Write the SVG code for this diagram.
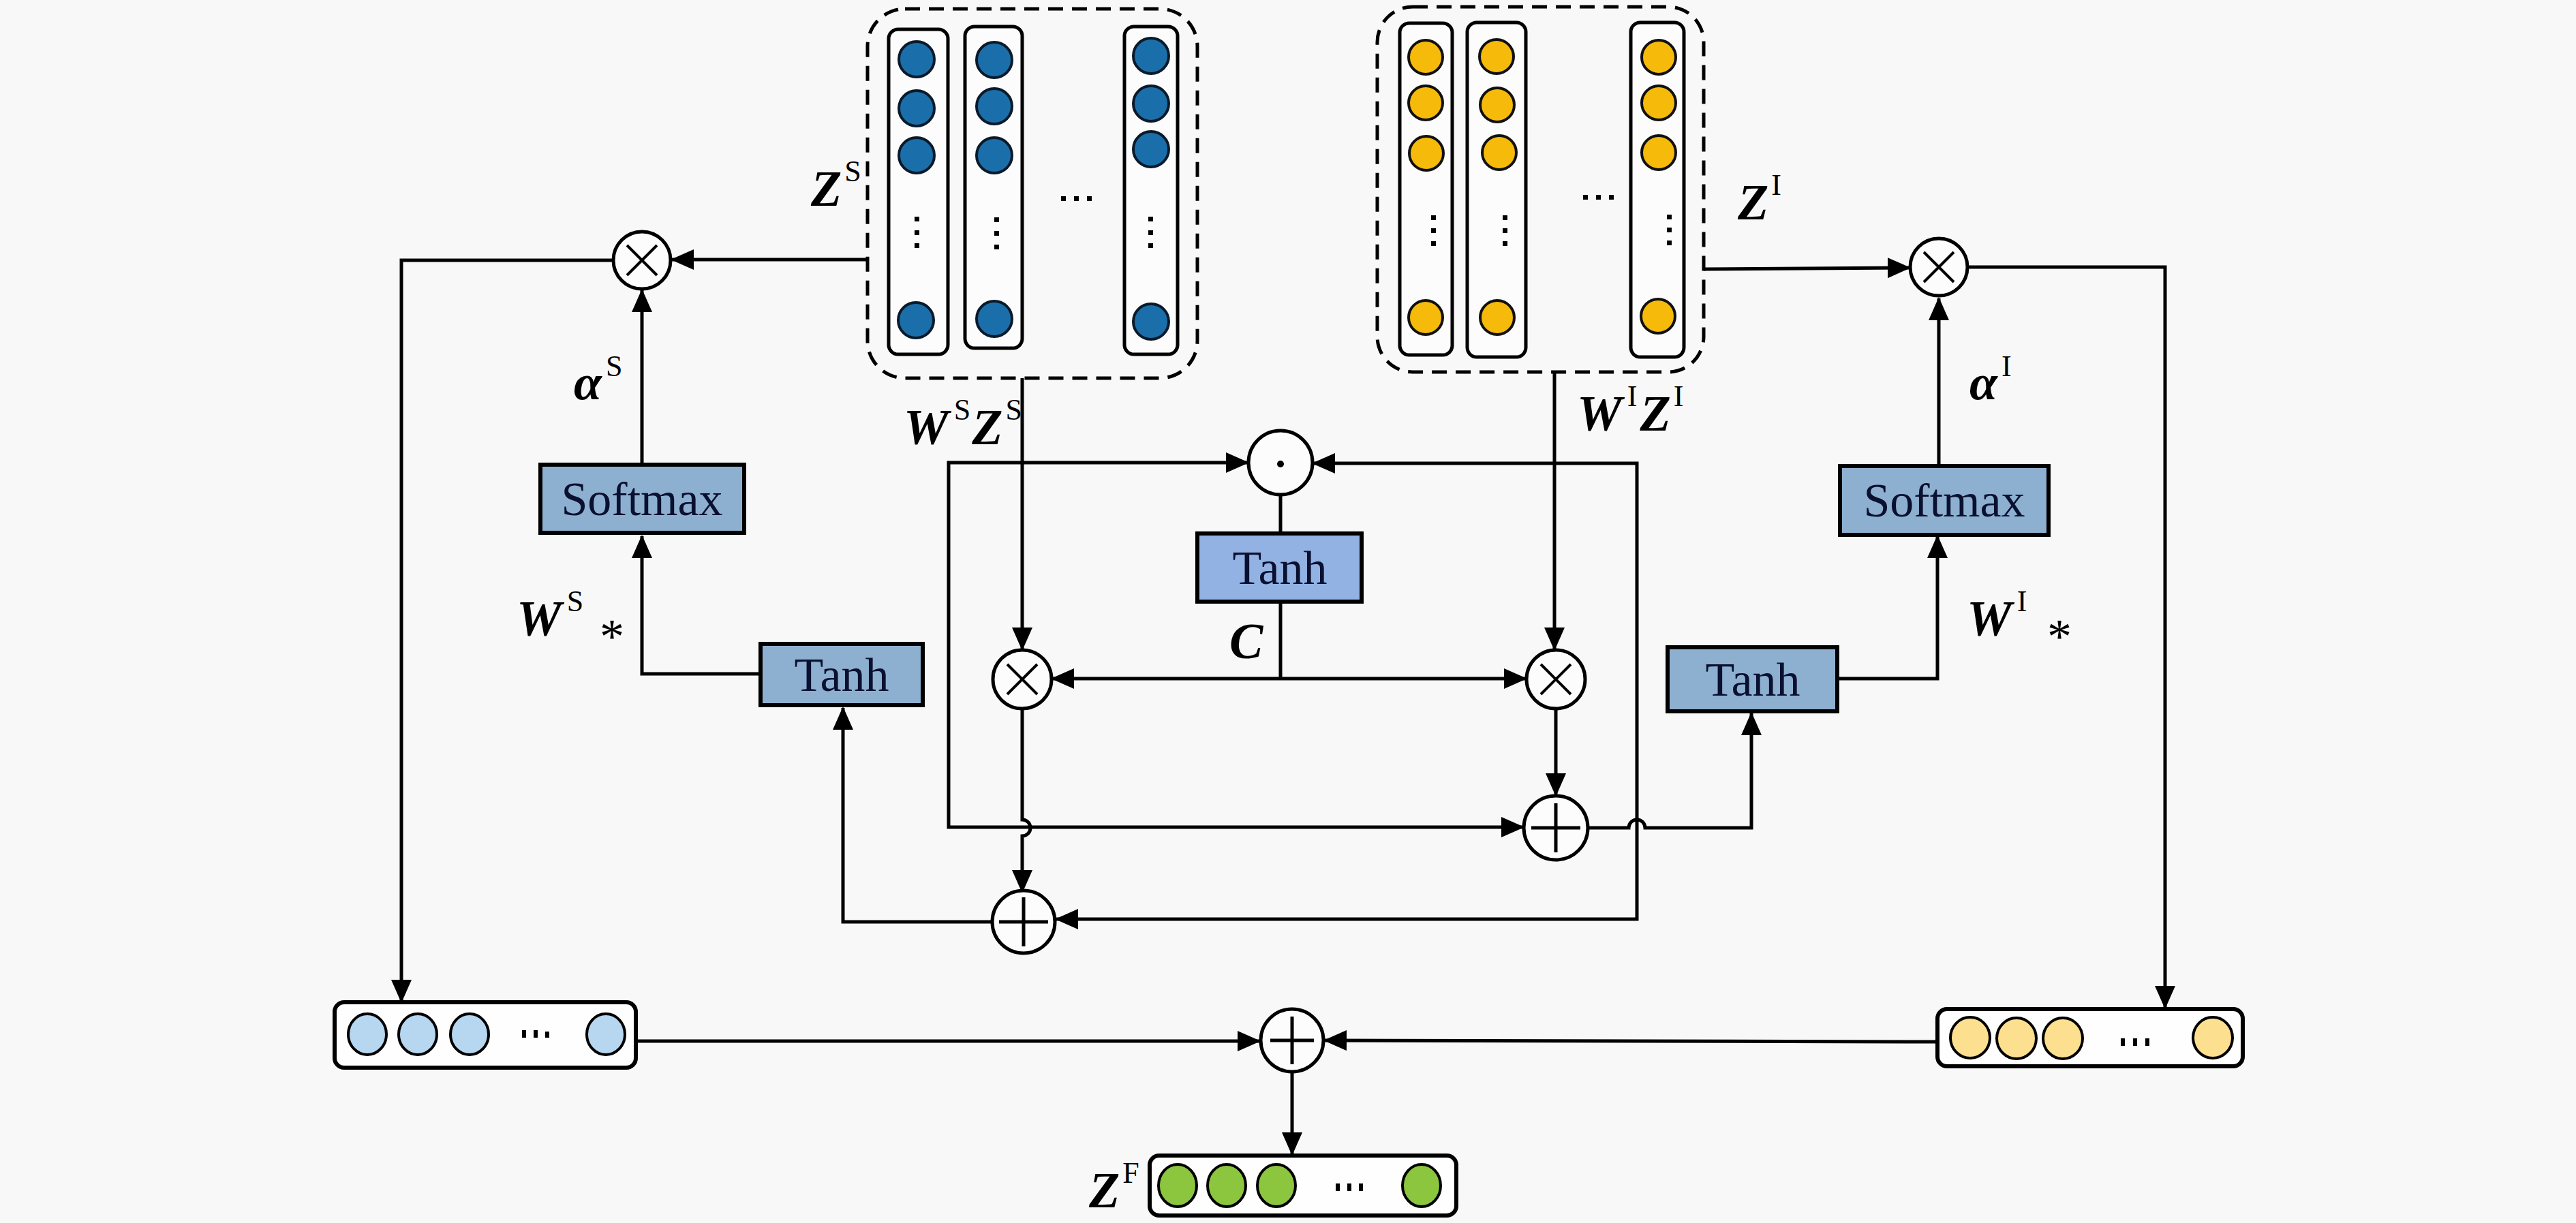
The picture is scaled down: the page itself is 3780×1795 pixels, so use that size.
<svg xmlns="http://www.w3.org/2000/svg" width="3780" height="1795" viewBox="0 0 3780 1795">
<style>
.ln{fill:none;stroke:#000;stroke-width:5}
.op{fill:#fcfcfc;stroke:#000;stroke-width:5}
.dash{fill:none;stroke:#000;stroke-width:5;stroke-dasharray:22 13}
.col{fill:#fcfcfc;stroke:#000;stroke-width:5}
.row{fill:#fefefe;stroke:#000;stroke-width:6}
.box{fill:#8eb0d0;stroke:#000;stroke-width:6}
.boxm{fill:#93b2e4;stroke:#000;stroke-width:6}
.cb{fill:#1a6faa;stroke:#0a1a2a;stroke-width:4}
.cy{fill:#f6bb0a;stroke:#111;stroke-width:4}
.clb{fill:#b7d6f0;stroke:#000;stroke-width:4}
.cly{fill:#fde08f;stroke:#000;stroke-width:4}
.cg{fill:#8cc63f;stroke:#000;stroke-width:4}
.dot{fill:#000}
.bt{font-family:"Liberation Serif","DejaVu Serif",serif;font-size:70px;text-anchor:middle;fill:#0a1030}
.m{font-family:"Liberation Serif","DejaVu Serif",serif;font-size:74px;font-weight:bold;font-style:italic;fill:#000}
.sup{font-weight:normal;font-style:normal;font-size:44px}
.ast{font-family:"Liberation Serif","DejaVu Serif",serif;font-size:72px;fill:#000}
</style>
<defs>
<marker id="ah" markerUnits="userSpaceOnUse" markerWidth="34" markerHeight="30" refX="32" refY="15" orient="auto-start-reverse" viewBox="0 0 34 30">
<path d="M0,0 L34,15 L0,30 Z" fill="#000"/>
</marker>
</defs>
<rect x="0" y="0" width="3780" height="1795" fill="#f8f8f8"/>

<g id="ZS">
<rect class="dash" x="1273" y="13" width="484" height="542" rx="55"/>
<rect class="col" x="1304" y="43" width="87" height="477" rx="14"/>
<rect class="col" x="1416" y="39" width="84" height="472" rx="14"/>
<rect class="col" x="1650" y="39" width="78" height="481" rx="14"/>
<circle class="cb" cx="1345" cy="87" r="26"/><circle class="cb" cx="1345" cy="159" r="26"/><circle class="cb" cx="1345" cy="228" r="26"/><circle class="cb" cx="1344" cy="470" r="26"/>
<circle class="cb" cx="1459" cy="88" r="26"/><circle class="cb" cx="1459" cy="156" r="26"/><circle class="cb" cx="1459" cy="228" r="26"/><circle class="cb" cx="1459" cy="468" r="26"/>
<circle class="cb" cx="1689" cy="82" r="26"/><circle class="cb" cx="1689" cy="152" r="26"/><circle class="cb" cx="1689" cy="219" r="26"/><circle class="cb" cx="1689" cy="472" r="26"/>
<g class="dot">
<rect x="1342" y="318" width="7" height="7"/><rect x="1342" y="338" width="7" height="7"/><rect x="1342" y="357" width="7" height="7"/>
<rect x="1459" y="319" width="7" height="7"/><rect x="1459" y="339" width="7" height="7"/><rect x="1459" y="359" width="7" height="7"/>
<rect x="1685" y="318" width="7" height="7"/><rect x="1685" y="338" width="7" height="7"/><rect x="1685" y="357" width="7" height="7"/>
<rect x="1557" y="288" width="7" height="7"/><rect x="1576" y="288" width="7" height="7"/><rect x="1595" y="288" width="7" height="7"/>
</g>
</g>

<g id="ZI">
<rect class="dash" x="2021" y="10" width="479" height="536" rx="52"/>
<rect class="col" x="2054" y="34" width="77" height="487" rx="14"/>
<rect class="col" x="2153" y="33" width="86" height="491" rx="14"/>
<rect class="col" x="2393" y="33" width="78" height="491" rx="14"/>
<circle class="cy" cx="2092" cy="84" r="25"/><circle class="cy" cx="2092" cy="151" r="25"/><circle class="cy" cx="2093" cy="225" r="25"/><circle class="cy" cx="2092" cy="466" r="25"/>
<circle class="cy" cx="2196" cy="83" r="25"/><circle class="cy" cx="2197" cy="154" r="25"/><circle class="cy" cx="2200" cy="224" r="25"/><circle class="cy" cx="2197" cy="466" r="25"/>
<circle class="cy" cx="2434" cy="84" r="25"/><circle class="cy" cx="2434" cy="151" r="25"/><circle class="cy" cx="2434" cy="224" r="25"/><circle class="cy" cx="2433" cy="464" r="25"/>
<g class="dot">
<rect x="2100" y="316" width="7" height="7"/><rect x="2100" y="335" width="7" height="7"/><rect x="2100" y="354" width="7" height="7"/>
<rect x="2205" y="316" width="7" height="7"/><rect x="2205" y="335" width="7" height="7"/><rect x="2205" y="354" width="7" height="7"/>
<rect x="2446" y="315" width="7" height="7"/><rect x="2446" y="334" width="7" height="7"/><rect x="2446" y="353" width="7" height="7"/>
<rect x="2323" y="286" width="7" height="7"/><rect x="2342" y="286" width="7" height="7"/><rect x="2361" y="286" width="7" height="7"/>
</g>
</g>

<g id="connectors">
<path class="ln" d="M1272,381 H986" marker-end="url(#ah)"/>
<path class="ln" d="M900,382 H589 V1470" marker-end="url(#ah)"/>
<path class="ln" d="M942,682 V426" marker-end="url(#ah)"/>
<path class="ln" d="M1116,989 H942 V787" marker-end="url(#ah)"/>
<path class="ln" d="M1456,1353 H1237 V1039" marker-end="url(#ah)"/>
<path class="ln" d="M1500,555 V953" marker-end="url(#ah)"/>
<path class="ln" d="M1500,1040 V1203 A12,12 0 0 1 1500,1227 V1309" marker-end="url(#ah)"/>
<path class="ln" d="M1831,679 H1392 V1214 H2235" marker-start="url(#ah)" marker-end="url(#ah)"/>
<path class="ln" d="M1927,680 H2402 V1349 H1550" marker-start="url(#ah)" marker-end="url(#ah)"/>
<path class="ln" d="M1879,726 V783"/>
<path class="ln" d="M1879,883 V996"/>
<path class="ln" d="M1544,996 H2239" marker-start="url(#ah)" marker-end="url(#ah)"/>
<path class="ln" d="M2281,546 V953" marker-end="url(#ah)"/>
<path class="ln" d="M2283,1041 V1167" marker-end="url(#ah)"/>
<path class="ln" d="M2330,1215 H2390 A12,12 0 0 1 2414,1215 H2570 V1047" marker-end="url(#ah)"/>
<path class="ln" d="M2698,996 H2843 V787" marker-end="url(#ah)"/>
<path class="ln" d="M2845,684 V438" marker-end="url(#ah)"/>
<path class="ln" d="M2500,395 L2802,393" marker-end="url(#ah)"/>
<path class="ln" d="M2887,392 H3177 V1479" marker-end="url(#ah)"/>
<path class="ln" d="M2842,1529 L1944,1527" marker-end="url(#ah)"/>
<path class="ln" d="M933,1528 H1848" marker-end="url(#ah)"/>
<path class="ln" d="M1896,1573 V1694" marker-end="url(#ah)"/>
</g>

<g id="mulS"><circle class="op" cx="942" cy="382" r="42"/><path class="ln" d="M920,360 L964,404 M964,360 L920,404" style="stroke-width:4"/></g>
<g id="mulI"><circle class="op" cx="2845" cy="392" r="42"/><path class="ln" d="M2823,370 L2867,414 M2867,370 L2823,414" style="stroke-width:4"/></g>
<g id="dotop"><circle class="op" cx="1879" cy="679" r="47"/><circle cx="1879" cy="681" r="5" fill="#000"/></g>
<g id="mulL"><circle class="op" cx="1500" cy="997" r="43"/><path class="ln" d="M1478,975 L1522,1019 M1522,975 L1478,1019" style="stroke-width:4"/></g>
<g id="mulR"><circle class="op" cx="2283" cy="997" r="43"/><path class="ln" d="M2261,975 L2305,1019 M2305,975 L2261,1019" style="stroke-width:4"/></g>
<g id="addR"><circle class="op" cx="2283" cy="1215" r="47"/><path class="ln" d="M2247,1215 H2319 M2283,1179 V1251"/></g>
<g id="addL"><circle class="op" cx="1502" cy="1353" r="46"/><path class="ln" d="M1466,1353 H1538 M1502,1317 V1389"/></g>
<g id="addB"><circle class="op" cx="1896" cy="1527" r="46"/><path class="ln" d="M1864,1527 H1928 M1896,1492 V1562"/></g>

<g id="softmaxS"><rect class="box" x="793" y="682" width="299" height="100"/><text class="bt" x="942" y="756">Softmax</text></g>
<g id="tanhS"><rect class="box" x="1116" y="945" width="238" height="90"/><text class="bt" x="1235" y="1014">Tanh</text></g>
<g id="tanhM"><rect class="boxm" x="1757" y="783" width="241" height="100"/><text class="bt" x="1878" y="857">Tanh</text></g>
<g id="softmaxI"><rect class="box" x="2700" y="684" width="306" height="101"/><text class="bt" x="2853" y="758">Softmax</text></g>
<g id="tanhI"><rect class="box" x="2447" y="950" width="249" height="94"/><text class="bt" x="2572" y="1021">Tanh</text></g>

<g id="rowS">
<rect class="row" x="491" y="1471" width="442" height="96" rx="14"/>
<ellipse class="clb" cx="539" cy="1518" rx="28" ry="30"/><ellipse class="clb" cx="613" cy="1518" rx="28" ry="30"/><ellipse class="clb" cx="689" cy="1518" rx="28" ry="30"/><ellipse class="clb" cx="889" cy="1518" rx="28" ry="30"/>
<g class="dot"><rect x="766" y="1512" width="6" height="11"/><rect x="783" y="1512" width="6" height="11"/><rect x="800" y="1514" width="6" height="9"/></g>
</g>
<g id="rowI">
<rect class="row" x="2843" y="1481" width="448" height="84" rx="14"/>
<ellipse class="cly" cx="2891" cy="1523" rx="29" ry="30"/><ellipse class="cly" cx="2959" cy="1524" rx="29" ry="30"/><ellipse class="cly" cx="3027" cy="1524" rx="29" ry="30"/><ellipse class="cly" cx="3247" cy="1523" rx="29" ry="30"/>
<g class="dot"><rect x="3112" y="1524" width="6" height="11"/><rect x="3130" y="1524" width="6" height="11"/><rect x="3148" y="1524" width="6" height="11"/></g>
</g>
<g id="rowF">
<rect class="row" x="1687" y="1696" width="450" height="88" rx="14"/>
<ellipse class="cg" cx="1728" cy="1740" rx="28" ry="31"/><ellipse class="cg" cx="1800" cy="1740" rx="28" ry="31"/><ellipse class="cg" cx="1873" cy="1740" rx="28" ry="31"/><ellipse class="cg" cx="2086" cy="1740" rx="28" ry="31"/>
<g class="dot"><rect x="1960" y="1737" width="6" height="11"/><rect x="1977" y="1737" width="6" height="11"/><rect x="1994" y="1737" width="6" height="11"/></g>
</g>

<g id="labels">
<text class="m" x="1190" y="302">Z<tspan class="sup" dx="4" dy="-36">S</tspan></text>
<text class="m" x="2550" y="322">Z<tspan class="sup" dx="4" dy="-36">I</tspan></text>
<text class="m" x="1326" y="652">W<tspan class="sup" dx="8" dy="-36">S</tspan><tspan dx="2" dy="36">Z</tspan><tspan class="sup" dx="4" dy="-36">S</tspan></text>
<text class="m" x="2314" y="632">W<tspan class="sup" dx="8" dy="-36">I</tspan><tspan dx="4" dy="36">Z</tspan><tspan class="sup" dx="4" dy="-36">I</tspan></text>
<text class="m" x="842" y="586">α<tspan class="sup" dx="6" dy="-34">S</tspan></text>
<text class="m" x="2890" y="586">α<tspan class="sup" dx="6" dy="-34">I</tspan></text>
<text class="m" x="758" y="933">W<tspan class="sup" dx="8" dy="-36">S</tspan></text>
<text class="ast" x="880" y="958">*</text>
<text class="m" x="2886" y="933">W<tspan class="sup" dx="8" dy="-36">I</tspan></text>
<text class="ast" x="3004" y="958">*</text>
<text class="m" x="1804" y="966">C</text>
<text class="m" x="1598" y="1772">Z<tspan class="sup" dx="4" dy="-36">F</tspan></text>
</g>
</svg>
